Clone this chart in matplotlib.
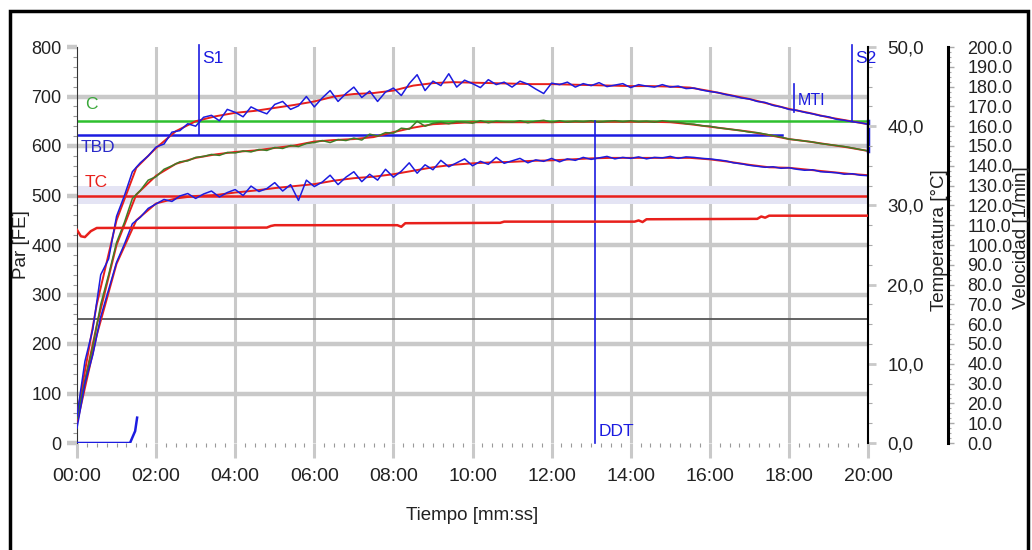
import numpy as np
import matplotlib
matplotlib.use("Agg")
import matplotlib.pyplot as plt
from matplotlib.patches import Rectangle
from matplotlib.ticker import FuncFormatter, MultipleLocator

plt.rcParams["font.family"] = ["Liberation Sans", "DejaVu Sans"]

# time grid of the noisy traces, minutes (every 12 s)
t_raw = np.linspace(0, 20, 101)

par_high = [55, 165, 230, 340, 372, 458, 500, 548, 566, 580,
            598, 604, 628, 631, 645, 640, 658, 662, 651, 674,
            668, 659, 679, 671, 665, 684, 690, 674, 681, 700,
            679, 697, 712, 690, 706, 719, 698, 711, 690, 709,
            717, 702, 726, 744, 712, 731, 722, 746, 719, 733,
            726, 718, 734, 724, 729, 719, 731, 725, 715, 706,
            727, 724, 729, 719, 726, 722, 728, 720, 723, 726,
            718, 724, 721, 719, 724, 719, 721, 716, 717, 713,
            710, 708, 704, 701, 697, 695, 690, 688, 682, 679,
            674, 672, 668, 665, 661, 659, 654, 652, 649, 647, 644]

temp_masa = [50, 125, 195, 280, 340, 405, 446, 494, 510, 531,
             538, 553, 560, 568, 570, 577, 579, 583, 581, 587,
             586, 590, 588, 593, 591, 597, 595, 601, 599, 605,
             607, 611, 607, 613, 611, 616, 612, 624, 620, 627,
             626, 636, 634, 650, 640, 646, 648, 645, 649, 648,
             646, 651, 647, 650, 649, 648, 651, 647, 650, 652,
             648, 651, 648, 650, 649, 651, 648, 650, 651, 649,
             651, 649, 650, 648, 651, 649, 648, 645, 644, 641,
             640, 637, 635, 633, 631, 628, 627, 624, 621, 618,
             614, 612, 610, 608, 605, 603, 601, 599, 596, 593, 590]

par_low = [30, 120, 178, 255, 310, 365, 402, 443, 456, 474,
           483, 492, 488, 499, 504, 494, 503, 509, 497, 506,
           512, 500, 519, 508, 514, 526, 509, 522, 490, 531,
           518, 527, 541, 522, 537, 548, 528, 543, 531, 553,
           537, 549, 566, 545, 562, 552, 571, 558, 566, 574,
           560, 569, 563, 577, 565, 570, 575, 566, 572, 569,
           575, 568, 574, 571, 577, 573, 576, 579, 574, 577,
           575, 578, 574, 577, 576, 579, 575, 578, 577, 575,
           574, 572, 570, 566, 564, 561, 559, 557, 558, 555,
           556, 553, 551, 552, 548, 547, 546, 543, 544, 541, 540]

# smoothed (red) traces, every 30 s
t_smooth = np.linspace(0, 20, 41)
par_high_smooth = [55, 280, 450, 556, 596, 630, 650, 660, 667, 671,
                   677, 683, 690, 700, 705, 707, 712, 722, 727, 729,
                   728, 727, 726, 725, 725, 724, 723, 722, 721, 721,
                   720, 718, 711, 703, 695, 685, 675, 667, 658, 651, 644]
temp_masa_smooth = [50, 238, 400, 502, 540, 564, 576, 583, 588, 591,
                    596, 601, 609, 612, 614, 618, 628, 637, 644, 646,
                    648, 648, 648, 648, 648, 649, 649, 649, 649, 649,
                    648, 644, 639, 634, 629, 622, 614, 609, 603, 597, 590]
par_low_smooth = [40, 218, 362, 450, 484, 494, 499, 501, 506, 510,
                  515, 519, 523, 530, 535, 538, 543, 550, 557, 562,
                  565, 567, 568, 570, 571, 573, 575, 576, 576, 576,
                  576, 576, 573, 568, 562, 557, 556, 552, 548, 544, 541]

# chamber temperature [°C]
t_camara = [0, 0.1, 0.2, 0.35, 0.5, 4.8, 4.9, 5.0, 8.1, 8.2, 8.3, 10.7, 10.8,
            14.1, 14.2, 14.3, 14.4, 17.2, 17.3, 17.4, 17.5, 20]
temp_camara = [26.9, 26.1, 26.0, 26.75, 27.15, 27.2, 27.4, 27.5, 27.5, 27.3,
               27.75, 27.8, 27.95, 27.95, 28.1, 27.9, 28.25, 28.3, 28.6, 28.45,
               28.7, 28.7]

# speed [1/min]
t_vel = [0, 1.34, 1.47, 1.52]
velocidad = [0, 0, 6, 12.8]

# reference levels (Par units)
nivel_c = 650
nivel_tbd = 623
nivel_tc = 500
nivel_gris = 250
banda_tc = (483, 519)
fin_tbd = 17.82

# event markers: (time, bottom, top)
s1 = (3.08, 623, 805)
s2 = (19.6, 650, 805)
mti = (18.13, 668, 725)
ddt = (13.1, 0, 650)
fin = (20.0, 590, 650)

BLUE = "#1c1ce0"
RED = "#e8201c"
GREEN = "#2ec02e"
DKGREEN = "#3f7d27"
GRID = "#c9c9c9"

fig = plt.figure(figsize=(10.32, 5.5), dpi=100)
ax = fig.add_axes([77 / 1032, 1 - 443 / 550, 791 / 1032, 396 / 550])
ax.set_xlim(0, 20)
ax.set_ylim(0, 800)

for lvl in [100, 200, 300, 400, 600, 700]:
    ax.axhline(lvl, color=GRID, lw=3.2, zorder=0)
for m in range(2, 20, 2):
    ax.axvline(m, color=GRID, lw=2.2, zorder=0)
ax.axhspan(*banda_tc, color="#e4e4f4", lw=0, zorder=0)
ax.axhline(nivel_gris, color="#555555", lw=1.3, zorder=1)

ax.axhline(nivel_c, color=GREEN, lw=1.8, zorder=2)
ax.plot([0, fin_tbd], [nivel_tbd, nivel_tbd], color=BLUE, lw=1.8, zorder=2)
ax.axhline(nivel_tc, color=RED, lw=1.8, zorder=2)

ax.plot(t_smooth, temp_masa_smooth, color=RED, lw=1.4, zorder=3)
ax.plot(t_raw, temp_masa, color=DKGREEN, lw=1.1, zorder=4)
ax.plot(t_smooth, par_high_smooth, color=RED, lw=1.4, zorder=3)
ax.plot(t_raw, par_high, color=BLUE, lw=1.1, zorder=4)
ax.plot(t_smooth, par_low_smooth, color=RED, lw=1.4, zorder=3)
ax.plot(t_raw, par_low, color=BLUE, lw=1.1, zorder=4)

for x, lo, hi in [s1, s2, mti, ddt]:
    ax.plot([x, x], [lo, hi], color=BLUE, lw=1.2, zorder=5, clip_on=False)
ax.plot([fin[0]] * 2, fin[1:], color=BLUE, lw=2.5, zorder=5, clip_on=False)

ax.text(s1[0] + 0.08, 792, "S1", color=BLUE, fontsize=12.5, va="top")
ax.text(s2[0] + 0.08, 792, "S2", color=BLUE, fontsize=12.5, va="top")
ax.text(mti[0] + 0.1, 692, "MTI", color=BLUE, fontsize=11.5, va="center")
ax.text(ddt[0] + 0.08, 8, "DDT", color=BLUE, fontsize=12.5, va="bottom")
ax.text(0.2, 683, "C", color="#3aa83a", fontsize=12.5, va="center")
ax.text(0.1, 596, "TBD", color="#2a2ac8", fontsize=12.5, va="center")
ax.text(0.2, 526, "TC", color=RED, fontsize=12.5, va="center")

for s in ["top", "bottom", "right"]:
    ax.spines[s].set_visible(False)
ax.spines["left"].set_color("#333333")
ax.xaxis.set_major_locator(MultipleLocator(2))
ax.xaxis.set_minor_locator(MultipleLocator(0.25))
ax.xaxis.set_major_formatter(FuncFormatter(lambda v, p: f"{int(round(v)):02d}:00"))
ax.yaxis.set_major_locator(MultipleLocator(100))
ax.yaxis.set_minor_locator(MultipleLocator(20))
ax.tick_params(axis="x", which="major", length=11, width=2.2, color=GRID,
               labelsize=14, pad=7, labelcolor="#222222")
ax.tick_params(axis="x", which="minor", length=3, width=0.8, color="#9a9a9a")
ax.tick_params(axis="y", which="major", length=7, width=3.2, color=GRID,
               labelsize=13, pad=4, labelcolor="#222222")
ax.tick_params(axis="y", which="minor", length=3, width=0.8, color="#9a9a9a")

# temperature axis
ax_t = ax.twinx()
ax_t.set_ylim(0, 50)
ax_t.plot(t_camara, temp_camara, color=RED, lw=1.8, zorder=3)
for s in ["top", "bottom", "left"]:
    ax_t.spines[s].set_visible(False)
ax_t.spines["right"].set_color("black")
ax_t.spines["right"].set_linewidth(1.5)
ax_t.yaxis.set_major_locator(MultipleLocator(10))
ax_t.yaxis.set_minor_locator(MultipleLocator(2.5))
ax_t.yaxis.set_major_formatter(FuncFormatter(lambda v, p: f"{v:.1f}".replace(".", ",")))
ax_t.tick_params(axis="y", which="major", length=6, width=2, color=GRID,
                 labelsize=13.5, pad=8, labelcolor="#222222")
ax_t.tick_params(axis="y", which="minor", length=3, width=0.8, color="#aaaaaa")

# speed axis
ax_v = ax.twinx()
ax_v.set_ylim(0, 200)
ax_v.plot(t_vel, velocidad, color=BLUE, lw=1.8, zorder=5)
for s in ["top", "bottom", "left"]:
    ax_v.spines[s].set_visible(False)
ax_v.spines["right"].set_position(("axes", (948 - 77) / 791))
ax_v.spines["right"].set_linewidth(2.2)
ax_v.yaxis.set_major_locator(MultipleLocator(10))
ax_v.yaxis.set_minor_locator(MultipleLocator(2.5))
ax_v.yaxis.set_major_formatter(FuncFormatter(lambda v, p: f"{v:.1f}"))
ax_v.tick_params(axis="y", which="major", length=4, width=1, color="#aaaaaa",
                 labelsize=13, pad=10, labelcolor="#222222")
ax_v.tick_params(axis="y", which="minor", length=2.5, width=0.8, color="#aaaaaa")

fig.text(22 / 1032, 1 - 245 / 550, "Par [FE]", rotation=90, fontsize=13.5,
         ha="center", va="center", color="#222222")
fig.text(472 / 1032, 1 - 516 / 550, "Tiempo [mm:ss]", fontsize=13.5,
         ha="center", va="center", color="#222222")
fig.text(940 / 1032, 1 - 240 / 550, "Temperatura [°C]", rotation=90, fontsize=13.5,
         ha="center", va="center", color="#222222")
fig.text(1021 / 1032, 1 - 238 / 550, "Velocidad [1/min]", rotation=90, fontsize=13.5,
         ha="center", va="center", color="#222222")

fig.add_artist(Rectangle((10 / 1032, -0.02), 1018 / 1032, 1.0 - 11 / 550 + 0.02,
                         transform=fig.transFigure, fill=False, lw=2.5,
                         ec="black"))

fig.savefig("out.png", dpi=100)
